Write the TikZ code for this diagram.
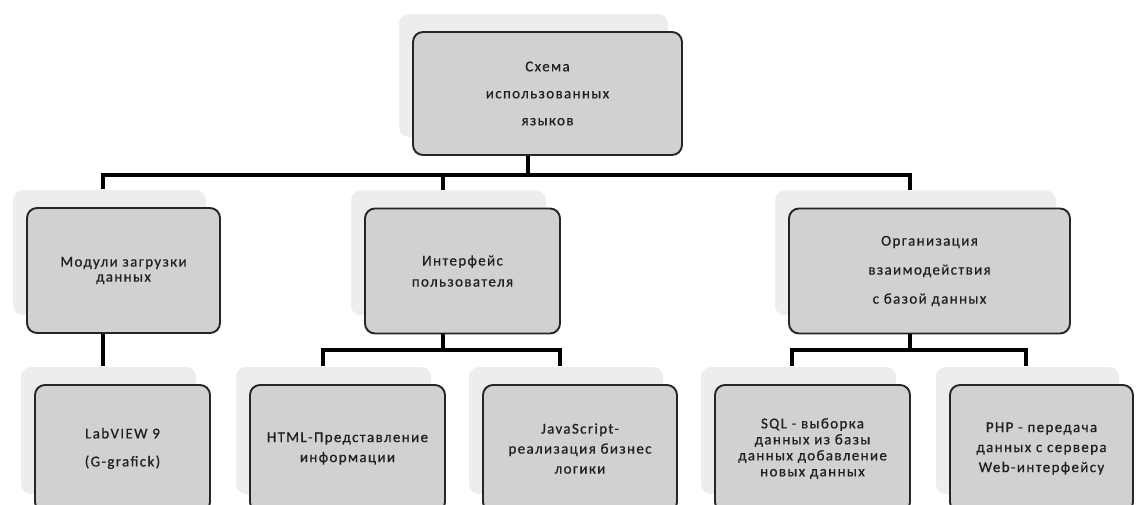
\documentclass[tikz,border=0pt]{standalone}
\usepackage{fontspec}
\setmainfont{Carlito}
\newfontfamily\boxfont[LetterSpace=9,FakeBold=0.6]{Carlito}
\usetikzlibrary{calc,shadows}
\begin{document}
\begin{tikzpicture}[x=1pt,y=-1pt,
  box/.style={draw=black!85, line width=1.9pt, rounded corners=10pt, fill=black!18,
    align=center, inner sep=0pt, text=black!88,
    drop shadow={shadow xshift=-14pt, shadow yshift=18pt, fill=black!7, opacity=1}},
  lead/.style={font=\boxfont\fontsize{15}{#1}\selectfont},
  conn/.style={line width=4pt, draw=black, line join=miter}]
\useasboundingbox (0,0) rectangle (1136,505);
\clip (0,0) rectangle (1136,505);

% level 1
\node[box, minimum width=269pt, minimum height=123pt, lead=27] (top) at (547.5,93.5)
  {Схема\\использованных\\языков};

% level 2
\node[box, minimum width=193pt, minimum height=125pt, lead=15] (b1) at (123.5,270.5)
  {Модули загрузки\\данных};
\node[box, minimum width=195pt, minimum height=125pt, lead=21] (b2) at (462.5,271)
  {Интерфейс\\пользователя};
\node[box, minimum width=281pt, minimum height=125pt, lead=29] (b3) at (929.5,271)
  {Организация\\взаимодействия\\с базой данных};

% level 3
\node[box, minimum width=175pt, minimum height=127pt, lead=28] (l1) at (122.5,448.5)
  {LabVIEW 9\\(G-grafick)};
\node[box, minimum width=195pt, minimum height=127pt, lead=20] (l2) at (347.5,448.5)
  {HTML-Представление\\информации};
\node[box, minimum width=194pt, minimum height=127pt, lead=20] (l3) at (580,448.5)
  {JavaScript-\\реализация бизнес\\логики};
\node[box, minimum width=195pt, minimum height=127pt, lead=16] (l4) at (812.5,448.5)
  {SQL - выборка\\данных из базы\\данных добавление\\новых данных};
\node[box, minimum width=183pt, minimum height=127pt, lead=20] (l5) at (1041.5,448.5)
  {PHP - передача\\данных с сервера\\Web-интерфейсу};

% connectors level 1 -> 2
\coordinate (bar1) at (0,175);
\coordinate (bar2) at (0,350);
\coordinate (t0) at ($(top.south)+(-19.5,0)$);
\coordinate (t1) at ($(b1.north)+(-20.5,-18)$);
\coordinate (t2) at ($(b2.north)+(-19.5,-18)$);
\coordinate (t3) at ($(b3.north)+(-19.5,-18)$);
\draw[conn] (t0) -- (t0 |- bar1);
\draw[conn] (t1) |- (t3 |- bar1) -- (t3);
\draw[conn] (t2) -- (t2 |- bar1);

% connectors level 2 -> 3
\coordinate (s1) at ($(b1.south)+(-20.5,0)$);
\coordinate (u1) at ($(l1.north)+(-19.5,-18)$);
\draw[conn] (s1) -- (s1 |- u1);

\coordinate (s2) at ($(b2.south)+(-19.5,0)$);
\coordinate (u2) at ($(l2.north)+(-24.5,-18)$);
\coordinate (u3) at ($(l3.north)+(-20,-18)$);
\draw[conn] (s2) -- (s2 |- bar2);
\draw[conn] (u2) |- (u3 |- bar2) -- (u3);

\coordinate (s3) at ($(b3.south)+(-19.5,0)$);
\coordinate (u4) at ($(l4.north)+(-20.5,-18)$);
\coordinate (u5) at ($(l5.north)+(-15.5,-18)$);
\draw[conn] (s3) -- (s3 |- bar2);
\draw[conn] (u4) |- (u5 |- bar2) -- (u5);
\end{tikzpicture}
\end{document}
